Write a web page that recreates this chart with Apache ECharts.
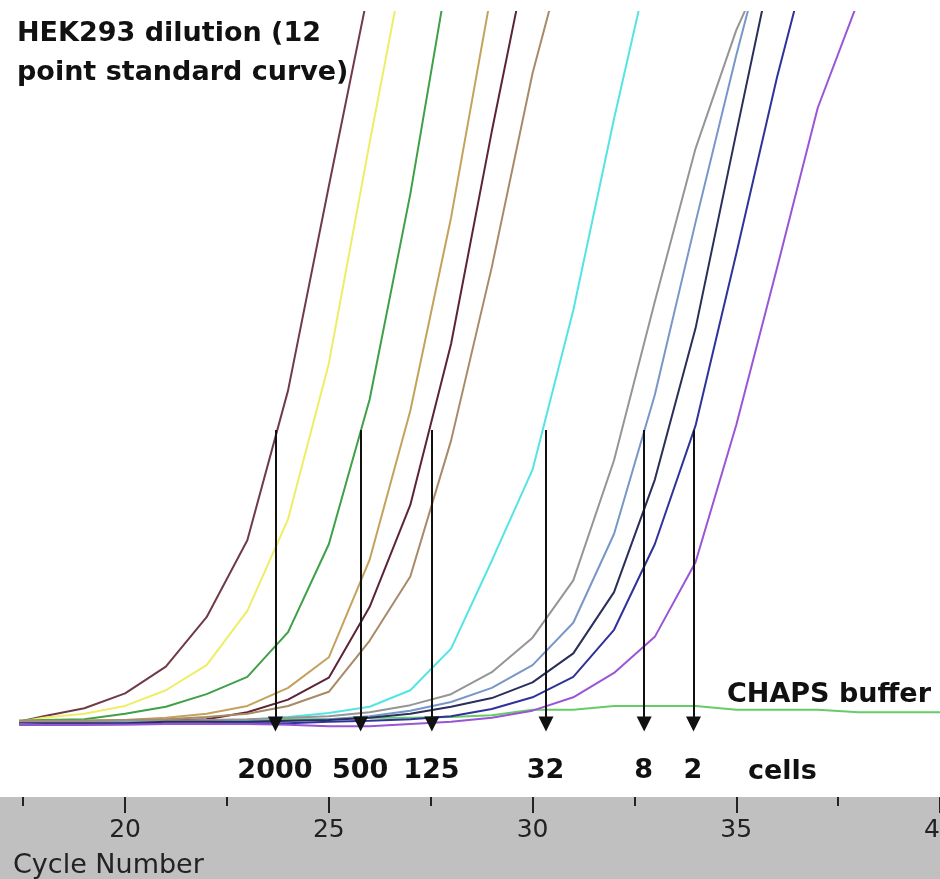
<!DOCTYPE html>
<html><head><meta charset="utf-8">
<script src="https://cdn.jsdelivr.net/npm/echarts@6/dist/echarts.min.js"></script>
<style>html,body{margin:0;padding:0;background:#fff}#c{width:940px;height:879px}</style>
</head><body><div id="c"></div>
<script>
// Cycle numbers (x) at which each curve was sampled
const cycles = [17.4, 18, 19, 20, 21, 22, 23, 24, 25, 26, 27, 28, 29, 30, 31, 32, 33, 34, 35, 36, 37, 38, 39, 40];

// Fluorescence readings (arbitrary units) per dilution curve, left to right
const brown  = [-0.04, 0.03, 0.13, 0.32, 0.66, 1.29, 2.27, 4.18, 6.78, 9.34];
const yellow = [-0.04, 0.01, 0.06, 0.16, 0.36, 0.68, 1.37, 2.54, 4.52, 7.33, 10.04];
const green  = [-0.03, -0.02, -0.01, 0.06, 0.15, 0.31, 0.53, 1.10, 2.22, 4.06, 6.68, 9.73];
const tan1   = [-0.06, -0.04, -0.03, -0.02, 0.01, 0.06, 0.16, 0.39, 0.78, 2.02, 3.92, 6.38, 9.28];
const maroon = [-0.07, -0.07, -0.06, -0.04, -0.03, -0.01, 0.08, 0.24, 0.52, 1.42, 2.72, 4.77, 7.48, 10.04];
const tan2   = [-0.03, -0.03, -0.03, -0.02, -0.01, 0.02, 0.06, 0.16, 0.34, 0.99, 1.81, 3.54, 5.75, 8.22, 10.17];
const cyan   = [-0.06, -0.06, -0.06, -0.04, -0.04, -0.03, -0.02, 0.02, 0.07, 0.15, 0.36, 0.89, 2.01, 3.17, 5.20, 7.64, 9.92];
const gray   = [-0.04, -0.04, -0.04, -0.03, -0.03, -0.02, -0.01, 0.01, 0.03, 0.08, 0.17, 0.31, 0.59, 1.03, 1.76, 3.29, 5.31, 7.26, 8.77, 9.92];
const steel  = [-0.07, -0.07, -0.07, -0.06, -0.06, -0.06, -0.04, -0.03, -0.01, 0.03, 0.10, 0.21, 0.39, 0.68, 1.22, 2.35, 4.12, 6.32, 8.45, 10.43];
const navy   = [-0.06, -0.06, -0.06, -0.06, -0.04, -0.04, -0.04, -0.03, -0.02, 0.01, 0.06, 0.15, 0.26, 0.46, 0.83, 1.61, 3.04, 4.97, 7.46, 9.92];
const blue   = [-0.08, -0.08, -0.08, -0.07, -0.07, -0.07, -0.06, -0.06, -0.04, -0.03, -0.01, 0.03, 0.12, 0.27, 0.53, 1.13, 2.22, 3.73, 5.92, 8.17, 10.17];
const purple = [-0.07, -0.08, -0.08, -0.08, -0.07, -0.07, -0.07, -0.08, -0.10, -0.10, -0.07, -0.04, 0.01, 0.10, 0.27, 0.58, 1.04, 1.99, 3.74, 5.74, 7.78, 9.15, 10.81];
const chaps  = [-0.03, -0.03, -0.03, -0.02, -0.02, -0.02, -0.02, -0.01, -0.01, 0.01, 0.01, 0.02, 0.04, 0.11, 0.11, 0.16, 0.16, 0.16, 0.11, 0.11, 0.11, 0.08, 0.08, 0.08];

// Threshold crossings (Ct) marked by arrows, and cell counts
const ctValues   = [23.69, 25.78, 27.53, 30.33, 32.74, 33.95];
const cellLabels = ['2000', '500', '125', '32', '8', '2'];
const threshold  = 3.675;
const arrowEnd   = -0.07;
const labelLevel = -0.676;

// Axis ticks
const majorTicks = [20, 25, 30, 35, 40];
const minorTicks = [17.5, 22.5, 27.5, 32.5, 37.5];

const curves = [
  ['CHAPS buffer', chaps, '#66cc66'],
  ['s1', brown, '#6e3b47'],
  ['s2', yellow, '#eeee66'],
  ['s3', green, '#3fa048'],
  ['s4', tan1, '#c4a25c'],
  ['s5', maroon, '#5c2436'],
  ['s6', tan2, '#a88a68'],
  ['s7', cyan, '#55e4e4'],
  ['s8', gray, '#959595'],
  ['s9', steel, '#7896c8'],
  ['s10', navy, '#2a2e5a'],
  ['s11', blue, '#2f3399'],
  ['s12', purple, '#9a55d6']
];

const chart = echarts.init(document.getElementById('c'), null, {renderer: 'canvas'});

const series = curves.map(([name, vals, color]) => ({
  name, type: 'line', xAxisIndex: 0, yAxisIndex: 0,
  data: vals.map((v, i) => [cycles[i], v]),
  symbol: 'none', showSymbol: false, clip: true, silent: true,
  lineStyle: {width: 2, color},
  emphasis: {disabled: true}
}));

const annFont = '"DejaVu Sans", Verdana, sans-serif';

series.push({
  name: 'Ct', type: 'scatter', xAxisIndex: 0, yAxisIndex: 0,
  data: ctValues.map((x, i) => ({value: [x, labelLevel], name: cellLabels[i]})),
  symbol: 'circle', symbolSize: 1, itemStyle: {color: 'rgba(255,255,255,0)'},
  silent: true, z: 5,
  label: {show: true, position: [0, 0], align: 'center', verticalAlign: 'middle', formatter: '{b}',
          fontSize: 27, fontWeight: 'bold', fontFamily: annFont, color: '#111', opacity: 1},
  markLine: {
    silent: true, animation: false,
    symbol: ['none', 'triangle'], symbolSize: 15,
    label: {show: false},
    lineStyle: {color: '#111', width: 2, type: 'solid', opacity: 1},
    emphasis: {disabled: true},
    data: ctValues.map(x => [{coord: [x, threshold]}, {coord: [x, arrowEnd]}])
  }
});

const txt = {font: 'bold 27px "DejaVu Sans", Verdana, sans-serif', fill: '#111', verticalAlign: 'middle'};

chart.setOption({
  animation: false,
  backgroundColor: '#ffffff',
  grid: {left: 0, right: 0, top: 12, bottom: 82, containLabel: false, outerBoundsMode: 'none'},
  xAxis: [{
    type: 'value', min: 16.93, max: 40, position: 'bottom',
    axisLine: {show: false, onZero: false}, splitLine: {show: false},
    axisTick: {show: true, customValues: majorTicks, length: 16, lineStyle: {color: '#222', width: 2}},
    axisLabel: {show: true, customValues: majorTicks, fontSize: 25, color: '#222', margin: 21,
                fontFamily: annFont}
  }, {
    type: 'value', min: 16.93, max: 40, position: 'bottom',
    axisLine: {show: false, onZero: false}, splitLine: {show: false},
    axisTick: {show: true, customValues: minorTicks, length: 9, lineStyle: {color: '#222', width: 2}},
    axisLabel: {show: false}
  }],
  yAxis: {type: 'value', min: -1, max: 9, show: false},
  graphic: [
    {type: 'rect', left: 0, top: 797, shape: {width: 940, height: 82}, style: {fill: '#c0c0c0'}, z: -100, silent: true},
    {type: 'text', x: 13, y: 866, style: {text: 'Cycle Number', font: '27px "DejaVu Sans", Verdana, sans-serif', fill: '#222', verticalAlign: 'middle'}, z: 100, silent: true},
    {type: 'text', x: 17, y: 34, style: Object.assign({text: 'HEK293 dilution (12'}, txt), z: 100, silent: true},
    {type: 'text', x: 17, y: 73, style: Object.assign({text: 'point standard curve)'}, txt), z: 100, silent: true},
    {type: 'text', x: 727, y: 695, style: Object.assign({text: 'CHAPS buffer'}, txt), z: 100, silent: true},
    {type: 'text', x: 748, y: 772, style: Object.assign({text: 'cells'}, txt), z: 100, silent: true}
  ],
  series
});
</script>
</body></html>
